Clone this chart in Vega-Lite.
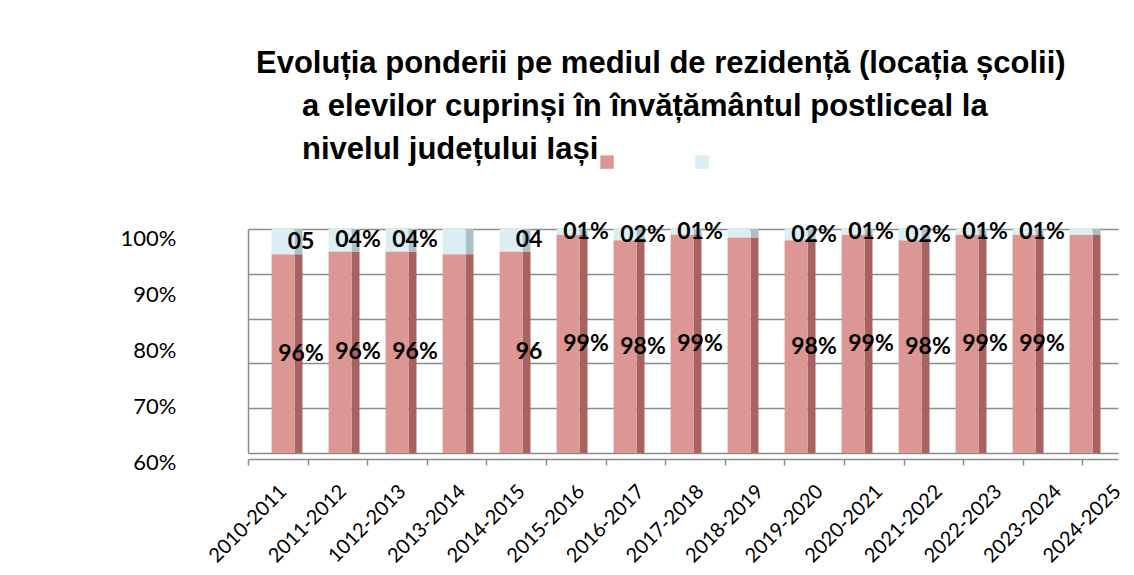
{
  "$schema": "https://vega.github.io/schema/vega-lite/v6.json",
  "autosize": "none",
  "width": 870,
  "height": 224,
  "padding": {"left": 248, "top": 229, "right": 16, "bottom": 122},
  "background": "white",
  "config": {"view": {"stroke": null}, "font": "Lato"},
  "title": {
    "text": [
      "Evoluția ponderii pe mediul de rezidență (locația școlii)",
      "\u2800\u2800a elevilor cuprinși în învățământul postliceal la",
      "\u2800\u2800nivelul județului Iași"
    ],
    "anchor": "start",
    "frame": "group",
    "dx": 8,
    "offset": -11,
    "font": "Liberation Sans",
    "fontSize": 31,
    "fontWeight": "bold",
    "color": "#000000",
    "lineHeight": 43
  },
  "data": {
    "values": [
      {"an": "2010-2011", "Urban": 95.5, "Rural": 4.5, "etUrban": "96%", "etRural": "05"},
      {"an": "2011-2012", "Urban": 96, "Rural": 4, "etUrban": "96%", "etRural": "04%"},
      {"an": "1012-2013", "Urban": 96, "Rural": 4, "etUrban": "96%", "etRural": "04%"},
      {"an": "2013-2014", "Urban": 95.5, "Rural": 4.5, "etUrban": "", "etRural": ""},
      {"an": "2014-2015", "Urban": 96, "Rural": 4, "etUrban": "96", "etRural": "04"},
      {"an": "2015-2016", "Urban": 99, "Rural": 1, "etUrban": "99%", "etRural": "01%"},
      {"an": "2016-2017", "Urban": 98, "Rural": 2, "etUrban": "98%", "etRural": "02%"},
      {"an": "2017-2018", "Urban": 99, "Rural": 1, "etUrban": "99%", "etRural": "01%"},
      {"an": "2018-2019", "Urban": 98.5, "Rural": 1.5, "etUrban": "", "etRural": ""},
      {"an": "2019-2020", "Urban": 98, "Rural": 2, "etUrban": "98%", "etRural": "02%"},
      {"an": "2020-2021", "Urban": 99, "Rural": 1, "etUrban": "99%", "etRural": "01%"},
      {"an": "2021-2022", "Urban": 98, "Rural": 2, "etUrban": "98%", "etRural": "02%"},
      {"an": "2022-2023", "Urban": 99, "Rural": 1, "etUrban": "99%", "etRural": "01%"},
      {"an": "2023-2024", "Urban": 99, "Rural": 1, "etUrban": "99%", "etRural": "01%"},
      {"an": "2024-2025", "Urban": 99, "Rural": 1, "etUrban": "", "etRural": ""}
    ]
  },
  "encoding": {
    "x": {
      "field": "an",
      "type": "nominal",
      "sort": null,
      "title": null,
      "scale": {"paddingInner": 0, "paddingOuter": 0.1316, "align": 0.433},
      "axis": {
        "labelAngle": -45,
        "labelAlign": "right",
        "labelBaseline": "top",
        "labelFontSize": 20,
        "labelColor": "#000000",
        "labelPadding": 16,
        "labelOverlap": false,
        "offset": 6,
        "domainColor": "#8c8c8c",
        "domainWidth": 1.5,
        "tickColor": "#8c8c8c",
        "tickSize": 6,
        "tickWidth": 1.5,
        "tickOffset": {"expr": "-35 + 36.4 * datum.index"},
        "labelOffset": 28,
        "grid": false
      }
    }
  },
  "layer": [
    {
      "transform": [{"fold": ["Urban", "Rural"], "as": ["mediu", "pct"]}],
      "mark": {"type": "bar", "width": 8, "xOffset": 15.5},
      "encoding": {
        "y": {
          "field": "pct",
          "type": "quantitative",
          "stack": "zero",
          "scale": {"domain": [60, 100], "clamp": true, "nice": false, "zero": false},
          "axis": {
            "orient": "left",
            "values": [60, 68, 76, 84, 92, 100],
            "grid": true,
            "gridColor": "#8c8c8c",
            "gridWidth": 1.6,
            "labels": false,
            "ticks": false,
            "domain": false,
            "title": null,
            "position": -10
          }
        },
        "color": {
          "condition": {"test": "datum.mediu === 'Urban'", "value": "#a8625f"},
          "value": "#a9c2c7"
        },
        "order": {"field": "mediu", "sort": "descending"}
      }
    },
    {
      "transform": [{"fold": ["Urban", "Rural"], "as": ["mediu", "pct"]}],
      "mark": {"type": "bar", "width": {"band": 0.4}},
      "encoding": {
        "y": {
          "field": "pct",
          "type": "quantitative",
          "stack": "zero",
          "scale": {"domain": [60, 100], "clamp": true, "nice": false, "zero": false},
          "axis": {
            "orient": "left",
            "values": [60, 70, 80, 90, 100],
            "labelExpr": "datum.value + '%'",
            "grid": false,
            "ticks": false,
            "tickSize": 0,
            "domain": true,
            "domainColor": "#8c8c8c",
            "domainWidth": 1.5,
            "labelPadding": 72,
            "labelOffset": 9,
            "labelFontSize": 22,
            "labelColor": "#000000",
            "title": null
          }
        },
        "color": {
          "field": "mediu",
          "type": "nominal",
          "scale": {"domain": ["Urban", "Rural"], "range": ["#dc9795", "#dbeef4"]},
          "legend": {
            "orient": "none",
            "legendX": 352,
            "legendY": -74,
            "direction": "horizontal",
            "title": null,
            "labelExpr": "''",
            "symbolType": "square",
            "symbolSize": 180,
            "symbolStrokeWidth": 0,
            "columnPadding": 81,
            "labelOffset": 0,
            "padding": 0
          }
        },
        "order": {"field": "mediu", "sort": "descending"}
      }
    },
    {
      "mark": {"type": "text", "dx": 18, "fontSize": 23, "fontWeight": "bold", "baseline": "middle", "align": "center", "color": "#000000"},
      "encoding": {
        "y": {"field": "Urban", "type": "quantitative", "scale": {"domain": [60, 140], "nice": false, "zero": false}, "axis": null},
        "text": {"field": "etUrban"}
      }
    },
    {
      "mark": {"type": "text", "dx": 18, "fontSize": 23, "fontWeight": "bold", "baseline": "middle", "align": "center", "color": "#000000"},
      "encoding": {
        "y": {"field": "Urban", "type": "quantitative", "scale": {"domain": [20, 100], "nice": false, "zero": false}, "axis": null},
        "text": {"field": "etRural"}
      }
    }
  ],
  "resolve": {"scale": {"y": "independent"}}
}
